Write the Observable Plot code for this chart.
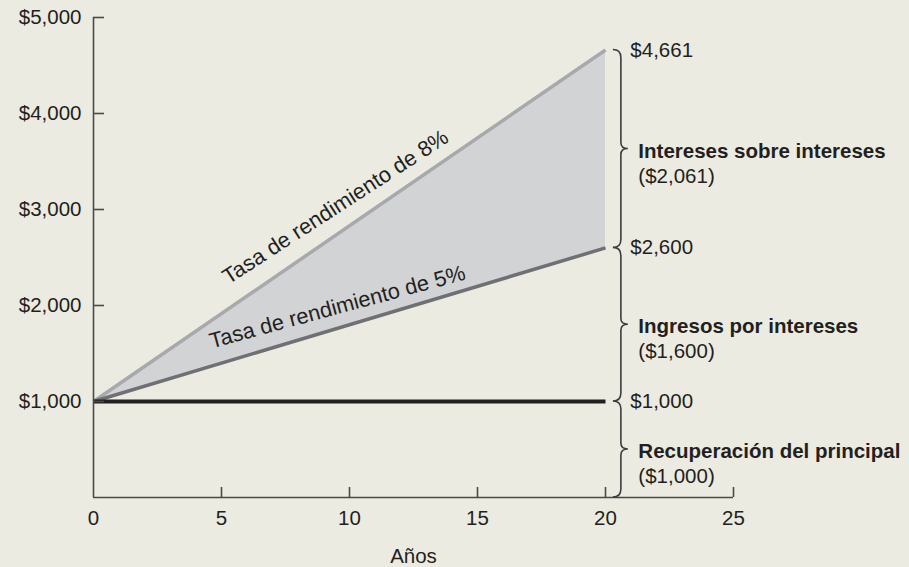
<!DOCTYPE html>
<html>
<head>
<meta charset="utf-8">
<script src="https://cdn.jsdelivr.net/npm/d3@7"></script>
<script src="https://cdn.jsdelivr.net/npm/@observablehq/plot@0.6"></script>
<style>
  html, body { margin: 0; padding: 0; background: #ecebe1; }
  #chart svg { display: block; }
</style>
</head>
<body>
<div id="chart"></div>
<script>
// Bond value after 20 years: principal, coupons, and interest earned on reinvested coupons
const years = [0, 20];
const value8 = [1000, 4661];   // coupons reinvested at 8%
const value5 = [1000, 2600];   // coupons reinvested at 5%
const principal = [1000, 1000];

const xTicks = [0, 5, 10, 15, 20, 25];
const yTicks = [1000, 2000, 3000, 4000, 5000];

const lineNames = ["Tasa de rendimiento de 8%", "Tasa de rendimiento de 5%"];
const partNames = ["Recuperación del principal", "Ingresos por intereses", "Intereses sobre intereses"];
const xLabel = "Años";

// layout
const W = 909, H = 567;
const mL = 93, mR = 176, mT = 17, mB = 70;
const plotW = W - mL - mR, plotH = H - mT - mB;
const xDomain = [0, 25], yDomain = [0, 5000];
const braceX = 20.62;

const fmt = d3.format("$,");

const rows = years.map((t, i) => ({t, v8: value8[i], v5: value5[i], p: principal[i]}));

// brace levels: 0, principal, end at 5%, end at 8%
const levels = [0, principal[1], value5[1], value8[1]];
const parts = partNames.map((name, i) => ({
  name, lo: levels[i], hi: levels[i + 1], mid: (levels[i] + levels[i + 1]) / 2, amount: levels[i + 1] - levels[i]
}));
const ends = levels.slice(1);

// screen angle of a segment, for the rotated line labels
function screenAngle(v0, v1) {
  const dx = (years[1] - years[0]) / (xDomain[1] - xDomain[0]) * plotW;
  const dy = (v1 - v0) / (yDomain[1] - yDomain[0]) * plotH;
  return -Math.atan2(dy, dx) * 180 / Math.PI;
}
function along(vals, f) {
  return {t: years[0] + f * (years[1] - years[0]), v: vals[0] + f * (vals[1] - vals[0])};
}
const lab8 = along(value8, 0.48);
const lab5 = along(value5, 0.48);

// curly braces drawn from the y scale
function braces(index, scales) {
  const x = scales.x(braceX);
  const c = 8, tip = 7, h = 6;
  let d = "";
  for (const s of parts) {
    const yt = scales.y(s.hi), yb = scales.y(s.lo), ym = scales.y(s.mid);
    d += `M${x - c},${yt}Q${x},${yt} ${x},${yt + c}L${x},${ym - h}Q${x},${ym} ${x + tip},${ym}`
       + `Q${x},${ym} ${x},${ym + h}L${x},${yb - c}Q${x},${yb} ${x - c},${yb}`;
  }
  return d3.create("svg:path")
    .attr("d", d)
    .attr("fill", "none")
    .attr("stroke", "#3d3d3d")
    .attr("stroke-width", 1.6)
    .node();
}

const chart = Plot.plot({
  width: W,
  height: H,
  marginLeft: mL,
  marginRight: mR,
  marginTop: mT,
  marginBottom: mB,
  x: {domain: xDomain, axis: null},
  y: {domain: yDomain, axis: null},
  style: {
    background: "#ecebe1",
    fontFamily: "'Liberation Sans', Arial, Helvetica, sans-serif",
    fontSize: "20.5px",
    color: "#231f20",
    overflow: "visible"
  },
  marks: [
    Plot.areaY(rows, {x: "t", y1: "v5", y2: "v8", fill: "#d2d3d5"}),
    Plot.line(rows, {x: "t", y: "v8", stroke: "#a7a9ac", strokeWidth: 3.5, strokeLinecap: "butt"}),
    Plot.line(rows, {x: "t", y: "v5", stroke: "#6f7073", strokeWidth: 3.5, strokeLinecap: "butt"}),
    Plot.line(rows, {x: "t", y: "p", stroke: "#231f20", strokeWidth: 4, strokeLinecap: "butt"}),

    // axes
    Plot.ruleX([0], {y1: yDomain[0], y2: yDomain[1], stroke: "#4a4a4a", strokeWidth: 1.6}),
    Plot.ruleY([0], {x1: xDomain[0], x2: xDomain[1], stroke: "#4a4a4a", strokeWidth: 1.6}),
    Plot.tickY(yTicks, {y: d => d, insetRight: plotW - 11, stroke: "#4a4a4a", strokeWidth: 1.6}),
    Plot.tickX(xTicks.filter(d => d > 0), {x: d => d, insetTop: plotH - 10, stroke: "#4a4a4a", strokeWidth: 1.6}),
    Plot.text(yTicks, {y: d => d, text: d => fmt(d), frameAnchor: "left", dx: -12, textAnchor: "end", fill: "#231f20"}),
    Plot.text(xTicks, {x: d => d, text: d => String(d), frameAnchor: "bottom", dy: 21, lineAnchor: "middle", fill: "#231f20"}),
    Plot.text([xLabel], {frameAnchor: "bottom", dy: 59, lineAnchor: "middle", fill: "#231f20"}),

    // labels along the lines
    Plot.text([lab8], {x: "t", y: "v", text: () => lineNames[0], rotate: screenAngle(value8[0], value8[1]) + 1.5,
      lineAnchor: "bottom", dy: -20, fontSize: 21.8, fill: "#231f20"}),
    Plot.text([lab5], {x: "t", y: "v", text: () => lineNames[1], rotate: screenAngle(value5[0], value5[1]) + 1.5,
      lineAnchor: "bottom", dy: -14, fontSize: 21.8, fill: "#231f20"}),

    // braces and their labels
    braces,
    Plot.text(ends, {x: () => braceX, y: d => d, text: d => fmt(d), textAnchor: "start", dx: 9, fill: "#231f20"}),
    Plot.text(parts, {x: () => braceX, y: "mid", text: "name", textAnchor: "start", dx: 17, dy: 2, fontWeight: "bold", fill: "#231f20"}),
    Plot.text(parts, {x: () => braceX, y: "mid", text: d => `(${fmt(d.amount)})`, textAnchor: "start", dx: 17, dy: 27, fill: "#231f20"})
  ]
});

document.getElementById("chart").appendChild(chart);
</script>
</body>
</html>
